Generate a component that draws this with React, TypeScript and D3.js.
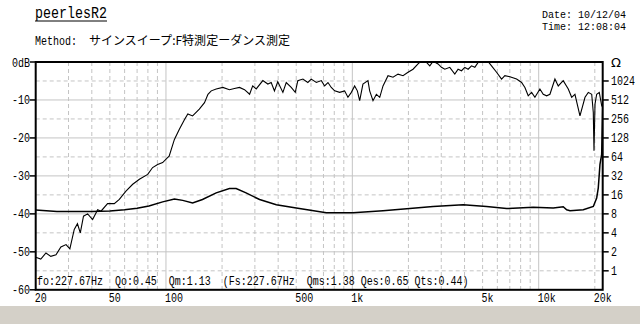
import React from "react";
import * as d3 from "d3";

// Frequency response (Hz, dB)
const respFreq = [20, 21.3, 22.7, 24.1, 25.7, 27.3, 29.1, 30.5, 32.2, 33.5, 34.7, 36.1, 38.0, 40.4, 43.0, 44.8, 48.6, 52.8, 56.2, 61.0, 66.3, 72.0, 79.8, 84.8, 90.2, 96.0, 102, 104, 111, 118, 126, 131, 139, 151, 161, 168, 175, 186, 202, 219, 233, 248, 264, 281, 292, 305, 331, 352, 367, 382, 398, 424, 442, 470, 494, 510, 543, 577, 602, 641, 682, 710, 740, 771, 804, 855, 909, 947, 988, 1029, 1064, 1095, 1140, 1213, 1239, 1291, 1346, 1403, 1461, 1554, 1653, 1759, 1871, 1990, 2117, 2252, 2350, 2500, 2604, 2712, 2884, 3008, 3134, 3333, 3547, 3694, 3853, 4012, 4181, 4360, 4542, 4732, 5033, 5354, 5585, 5942, 6320, 6584, 7004, 7610, 8096, 8434, 8786, 9162, 9544, 10150, 10576, 11030, 11490, 12220, 12730, 13540, 14410, 15030, 15650, 16650, 17720, 18460, 19250, 19630, 19800, 20050, 20470, 21140, 21770, 22050];
const respDb = [-51.4, -51.9, -50.3, -51.2, -50.8, -48.7, -48.1, -49.2, -44.1, -42.6, -45.0, -40.6, -40.0, -41.5, -38.9, -39.3, -37.3, -37.3, -36.2, -34.0, -32.2, -30.9, -29.6, -27.8, -27.0, -26.5, -25.2, -24.8, -20.4, -17.7, -15.1, -13.7, -14.2, -12.4, -10.7, -8.5, -7.6, -7.1, -6.7, -7.3, -7.0, -6.7, -7.3, -8.5, -6.3, -7.1, -4.9, -5.8, -5.4, -7.6, -5.2, -8.0, -5.4, -6.7, -8.0, -4.9, -4.5, -5.4, -4.5, -5.4, -4.9, -6.3, -5.4, -6.7, -7.6, -8.0, -7.6, -9.3, -8.0, -6.3, -7.6, -10.2, -5.8, -4.9, -7.6, -10.2, -8.5, -9.3, -6.3, -3.6, -4.0, -3.2, -3.6, -2.7, -1.9, -0.5, 0.3, -0.1, -1.0, 0.2, -0.5, -1.4, -1.9, -1.4, -3.2, -1.9, -2.3, -1.4, -1.9, -1.0, -1.4, -0.1, 0.2, 0.1, -1.0, -2.7, -4.5, -3.6, -3.9, -4.5, -5.4, -6.7, -8.9, -8.0, -9.3, -7.1, -8.5, -8.9, -8.5, -4.5, -6.3, -4.9, -7.1, -9.3, -8.5, -14.2, -9.3, -8.0, -8.5, -13.3, -23.4, -11.1, -8.5, -8.0, -11.5, -12.0];

// Impedance (Hz, Ohm)
const impFreq = [20, 26, 40, 50, 60, 70, 81, 96, 111, 123, 139, 157, 186, 219, 238, 269, 318, 391, 500, 725, 1008, 1461, 2032, 2712, 3932, 5250, 6724, 9342, 11970, 13540, 14130, 14720, 17350, 19630, 20470, 20880, 21320, 21770, 22050];
const impOhm = [9.2, 8.7, 8.7, 8.9, 9.3, 9.8, 10.7, 12.4, 13.8, 13.1, 11.9, 13.5, 17.2, 20.2, 20.2, 17.2, 13.5, 11.2, 9.9, 8.3, 8.3, 9.0, 9.7, 10.5, 11.2, 10.5, 9.7, 10.2, 9.9, 10.4, 9.3, 9.0, 9.3, 10.5, 14.3, 20.7, 48.6, 70, 400];

const dbTicks = [0, -10, -20, -30, -40, -50, -60];
const dbLabels = ["0dB", "-10", "-20", "-30", "-40", "-50", "-60"];
const ohmTicks = [1024, 512, 256, 128, 64, 32, 16, 8, 4, 2, 1];
const freqTicks = [20, 50, 100, 500, 1000, 5000, 10000, 20000];
const freqLabels = ["20", "50", "100", "500", "1k", "5k", "10k", "20k"];
const majorFreqs = [100, 1000, 10000];
const minorFreqs = [30, 40, 50, 60, 70, 80, 90, 200, 300, 400, 500, 600, 700, 800, 900, 2000, 3000, 4000, 5000, 6000, 7000, 8000, 9000, 20000];
const majorDb = [-10, -20, -30, -40, -50];
const minorDb = [-5, -15, -25, -35, -45, -55];

const titleText = "peerlesR2";
const methodLabel = "Method:";
const methodText = "サインスイープ:F特測定ーダンス測定";
const dateText = "Date: 10/12/04";
const timeText = "Time: 12:08:04";
const infoText = "fo:227.67Hz  Qo:0.45  Qm:1.13  (Fs:227.67Hz  Qms:1.38 Qes:0.65 Qts:0.44)";

const L = 35.7, R = 602.7, T = 62, B = 289.8;
const FONT = "'Liberation Mono', 'DejaVu Sans Mono', monospace";

// half-width char advance = 6px for a 12px bitmap-like font
function tlen(s: string, fs = 12) {
  let n = 0;
  for (const c of s) n += c.charCodeAt(0) < 0x100 ? 6 : 12;
  return (n * fs) / 12;
}

function T2({ x, y, s, fs = 12, sy = 1.2 }: { x: number; y: number; s: string; fs?: number; sy?: number }) {
  const f = (fs * 10) / 12;
  return (
    <text
      transform={`translate(${x},${y}) scale(1,${sy})`}
      fontSize={f}
      fontFamily={FONT}
      fill="#000"
      style={{ whiteSpace: "pre" }}
      xmlSpace="preserve"
    >
      {s}
    </text>
  );
}

export default function App() {
  const x = d3.scaleLog().domain([20, 22050]).range([L, R]);
  const y = d3.scaleLinear().domain([-60, 0]).range([B, T]);
  const yZ = d3.scaleLog().base(2).domain([0.5, 2048]).range([B, T]);

  const resp = respFreq.map((f, i) => [f, respDb[i]] as [number, number]);
  const imp = impFreq.map((f, i) => [f, impOhm[i]] as [number, number]);
  const lineR = d3.line<[number, number]>().x((d) => x(d[0])).y((d) => y(d[1]));
  const lineZ = d3.line<[number, number]>().x((d) => x(d[0])).y((d) => yZ(d[1]));

  const grid = "#c4c4c4";
  return (
    <svg width={640} height={324} style={{ position: "absolute", left: 0, top: 0, background: "#fff" }}>
      <rect x={0} y={0} width={640} height={324} fill="#fff" />
      <rect x={0} y={306} width={640} height={18} fill="#d4d0c8" />
      <defs>
        <clipPath id="plot">
          <rect x={L} y={T} width={R - L} height={B - T} />
        </clipPath>
      </defs>
      {minorDb.map((d) => (
        <line key={"md" + d} x1={L} x2={R} y1={y(d)} y2={y(d)} stroke={grid} strokeDasharray="4,3" />
      ))}
      {majorDb.map((d) => (
        <line key={"Md" + d} x1={L} x2={R} y1={y(d)} y2={y(d)} stroke={grid} />
      ))}
      {minorFreqs.map((f) => (
        <line key={"mf" + f} x1={x(f)} x2={x(f)} y1={T} y2={B} stroke={grid} strokeDasharray="4,3" />
      ))}
      {majorFreqs.map((f) => (
        <line key={"Mf" + f} x1={x(f)} x2={x(f)} y1={T} y2={B} stroke={grid} />
      ))}
      <T2 x={37} y={285} s={infoText} />
      <g clipPath="url(#plot)">
        <path d={lineZ(imp) || ""} fill="none" stroke="#000" strokeWidth={1.5} />
        <path d={lineR(resp) || ""} fill="none" stroke="#000" strokeWidth={1.1} />
      </g>
      <rect x={L} y={T} width={R - L} height={B - T} fill="none" stroke="#000" strokeWidth={2} />
      {dbTicks.map((d, i) => (
        <g key={"lt" + d}>
          <line x1={L - 6} x2={L} y1={y(d)} y2={y(d)} stroke="#000" strokeWidth={1.5} />
          <T2 x={30 - tlen(dbLabels[i])} y={y(d) + 4.5} s={dbLabels[i]} />
        </g>
      ))}
      {ohmTicks.map((o) => (
        <g key={"rt" + o}>
          <line x1={R} x2={R + 6} y1={yZ(o)} y2={yZ(o)} stroke="#000" strokeWidth={1.5} />
          <T2 x={611} y={yZ(o) + 4.5} s={String(o)} />
        </g>
      ))}
      <text x={611} y={T + 5} fontSize={13} fontFamily="'DejaVu Sans', sans-serif" fill="#000">Ω</text>
      {freqTicks.map((f, i) => (
        <T2 key={"bt" + f} x={x(f) - 1} y={302} s={freqLabels[i]} />
      ))}
      <T2 x={35} y={18} s={titleText} fs={16} />
      <line x1={35} x2={35 + tlen(titleText, 16)} y1={21} y2={21} stroke="#000" strokeWidth={1} />
      <T2 x={35} y={45} s={methodLabel} />
      <text x={89} y={45} fontSize={12} fontFamily={"'Noto Sans CJK JP', sans-serif"} fill="#000" textLength={201} lengthAdjust="spacingAndGlyphs">
        {methodText}
      </text>
      <T2 x={542} y={18} s={dateText} sy={1} />
      <T2 x={542} y={30} s={timeText} sy={1} />
    </svg>
  );
}
